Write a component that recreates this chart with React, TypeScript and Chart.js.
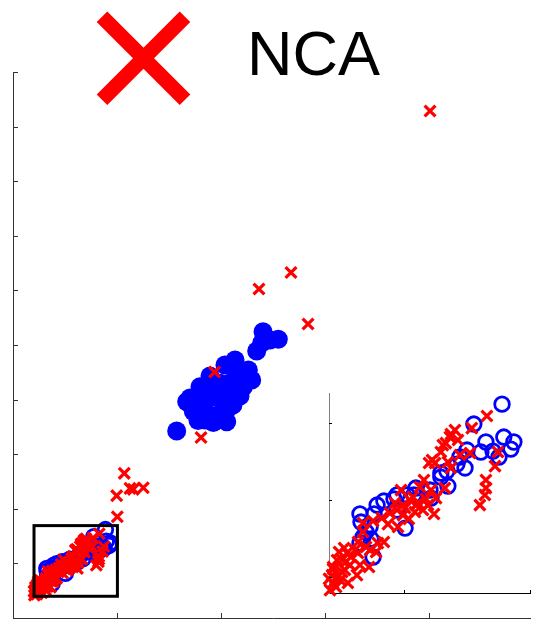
import React, { useEffect, useRef } from "react";
import { Chart, registerables } from "chart.js";

Chart.register(...registerables);

// ---------- data ----------
const seriesLabel = "NCA";

const mainXRange = [0, 5];
const mainYRange = [0, 10];
const mainXTicks = [1, 2, 3, 4, 5];
const mainYTicks = [1, 2, 3, 4, 5, 6, 7, 8, 9, 10];

const insetXRange = [0.202, 1.004];
const insetYRange = [0.398, 1.692];
const insetXTicks = [0.5, 1.0];
const insetYTicks = [0.5, 1.0, 1.5];

// blue filled circles (main cluster)
const blueFilled: [number, number][] = [
  [1.574, 3.425], [2.404, 5.244], [2.551, 5.104], [2.343, 4.89], [2.391, 5.037],
  [2.471, 5.092], [1.67, 3.962], [1.798, 4.236], [1.894, 4.432], [2.038, 4.634],
  [2.135, 4.725], [2.263, 4.542], [2.295, 4.359], [2.214, 4.231], [2.055, 3.595],
  [1.926, 3.581], [1.779, 3.617], [1.734, 3.782], [2.022, 3.993], [1.926, 4.053],
  [1.83, 3.932], [2.055, 3.81], [1.863, 3.749], [2.118, 4.176], [1.99, 4.298],
  [1.798, 4.053], [2.183, 4.414], [2.087, 4.304], [2.115, 3.901], [2.183, 4.066],
  [1.952, 4.139], [1.702, 4.029], [1.971, 3.718], [1.846, 3.626], [2.163, 4.505],
];

// blue hollow circles (small cluster, shown zoomed in the inset)
const blueHollow: [number, number][] = [
  [0.889, 1.62], [0.777, 1.491], [0.825, 1.375], [0.896, 1.407], [0.936, 1.375],
  [0.924, 1.329], [0.853, 1.316], [0.805, 1.31], [0.877, 1.278], [0.75, 1.323],
  [0.722, 1.278], [0.71, 1.232], [0.742, 1.207], [0.67, 1.187], [0.646, 1.148],
  [0.674, 1.09], [0.603, 1.064], [0.547, 1.077], [0.512, 1.032], [0.472, 1.032],
  [0.46, 1.006], [0.42, 0.993], [0.393, 0.967], [0.472, 0.935], [0.381, 0.909],
  [0.325, 0.909], [0.329, 0.857], [0.349, 0.793], [0.365, 0.825], [0.504, 0.818],
  [0.369, 0.747], [0.325, 0.721], [0.377, 0.631], [0.337, 0.76], [0.539, 1.032],
  [0.607, 1.012], [0.646, 1.174],
];

// NCA points far from the origin
const ncaOutliers: [number, number][] = [
  [4.01, 9.286], [2.365, 6.026], [2.673, 6.328], [2.837, 5.385], [1.938, 4.505],
  [1.808, 3.306], [1.07, 2.65], [0.997, 2.24], [1.125, 2.375], [1.157, 2.357],
  [1.253, 2.386], [1.003, 1.855],
];

// NCA points in the small cluster
const ncaCluster: [number, number][] = [
  [0.829, 1.543], [0.769, 1.465], [0.702, 1.452], [0.686, 1.426], [0.682, 1.407],
  [0.666, 1.368], [0.654, 1.355], [0.714, 1.388], [0.762, 1.304], [0.722, 1.291],
  [0.873, 1.31], [0.861, 1.219], [0.825, 1.129], [0.825, 1.077], [0.821, 1.032],
  [0.801, 0.967], [0.674, 1.245], [0.623, 1.239], [0.611, 1.258], [0.646, 1.31],
  [0.662, 1.077], [0.607, 1.064], [0.686, 1.207], [0.599, 1.239], [0.579, 1.129],
  [0.563, 1.084], [0.488, 1.064], [0.523, 1.0], [0.496, 0.967], [0.472, 0.935],
  [0.444, 0.915], [0.619, 0.909], [0.627, 1.012], [0.535, 1.019], [0.587, 1.006],
  [0.547, 0.967], [0.575, 0.935], [0.519, 0.877], [0.496, 0.902], [0.476, 0.825],
  [0.436, 0.844], [0.412, 0.883], [0.377, 0.864], [0.337, 0.851], [0.337, 0.793],
  [0.317, 0.728], [0.349, 0.696], [0.389, 0.663], [0.42, 0.728], [0.396, 0.721],
  [0.365, 0.676], [0.317, 0.657], [0.325, 0.579], [0.361, 0.566], [0.273, 0.657],
  [0.242, 0.663], [0.289, 0.631], [0.269, 0.599], [0.254, 0.611], [0.218, 0.566],
  [0.218, 0.553], [0.265, 0.547], [0.254, 0.534], [0.313, 0.514], [0.202, 0.489],
  [0.23, 0.437], [0.218, 0.463], [0.206, 0.417], [0.246, 0.482], [0.285, 0.579],
  [0.305, 0.676], [0.234, 0.611], [0.504, 0.948], [0.555, 0.98], [0.464, 0.98],
  [0.238, 0.514], [0.277, 0.463], [0.262, 0.689], [0.214, 0.514], [0.543, 0.922],
  [0.595, 0.967],
];

// ---------- helpers ----------
const toXY = (arr: [number, number][]) => arr.map(([x, y]) => ({ x, y }));

const RED = "#ff0000";
const BLUE = "#0000ff";

const inTicksPlugin = {
  id: "inTicks",
  afterDraw(chart: any, _args: any, opts: any) {
    const { ctx, chartArea } = chart;
    const xs = chart.scales.x;
    const ys = chart.scales.y;
    ctx.save();
    ctx.lineWidth = 1;
    ctx.strokeStyle = opts.color || "#000";
    ctx.beginPath();
    (opts.x || []).forEach((v: number) => {
      const px = Math.round(xs.getPixelForValue(v)) + 0.5;
      ctx.moveTo(px, chartArea.bottom);
      ctx.lineTo(px, chartArea.bottom - opts.len);
    });
    (opts.y || []).forEach((v: number) => {
      const py = Math.round(ys.getPixelForValue(v)) + 0.5;
      ctx.moveTo(chartArea.left, py);
      ctx.lineTo(chartArea.left + opts.len, py);
    });
    ctx.stroke();
    ctx.restore();
  },
};

const zoomBoxPlugin = {
  id: "zoomBox",
  afterDatasetsDraw(chart: any, _args: any, opts: any) {
    if (!opts || !opts.xr) return;
    const { ctx } = chart;
    const xs = chart.scales.x;
    const ys = chart.scales.y;
    const x0 = xs.getPixelForValue(opts.xr[0]);
    const x1 = xs.getPixelForValue(opts.xr[1]);
    const y0 = ys.getPixelForValue(opts.yr[0]);
    const y1 = ys.getPixelForValue(opts.yr[1]);
    ctx.save();
    ctx.lineWidth = 3;
    ctx.strokeStyle = "#000";
    ctx.strokeRect(x0, y1, x1 - x0, y0 - y1);
    ctx.restore();
  },
};

const bigLegendPlugin = {
  id: "bigLegend",
  afterDraw(chart: any, _args: any, opts: any) {
    if (!opts || !opts.show) return;
    const { ctx } = chart;
    const ds = chart.data.datasets.find((d: any) => d.label === seriesLabel);
    if (!ds) return;
    const cx = opts.cx, cy = opts.cy, a = opts.arm;
    ctx.save();
    ctx.strokeStyle = ds.borderColor;
    ctx.lineWidth = opts.stroke;
    ctx.lineCap = "butt";
    ctx.beginPath();
    ctx.moveTo(cx - a, cy - a);
    ctx.lineTo(cx + a, cy + a);
    ctx.moveTo(cx + a, cy - a);
    ctx.lineTo(cx - a, cy + a);
    ctx.stroke();
    ctx.fillStyle = "#000";
    ctx.font = `${opts.fontSize}px "Liberation Sans", Arial, sans-serif`;
    ctx.textBaseline = "alphabetic";
    ctx.textAlign = "left";
    ctx.fillText(ds.label, opts.tx, opts.ty);
    ctx.restore();
  },
};

const ncaStyle = {
  pointStyle: "crossRot" as const,
  pointRadius: 7.7,
  pointHoverRadius: 7.7,
  pointBorderWidth: 3.2,
  borderColor: RED,
  backgroundColor: RED,
  clip: false as const,
};
const hollowStyle = {
  pointStyle: "circle" as const,
  pointRadius: 7.3,
  pointHoverRadius: 7.3,
  pointBorderWidth: 2.8,
  borderColor: BLUE,
  backgroundColor: "rgba(0,0,0,0)",
  clip: false as const,
};
const filledStyle = {
  pointStyle: "circle" as const,
  pointRadius: 9.5,
  pointHoverRadius: 9.5,
  pointBorderWidth: 0,
  borderColor: BLUE,
  backgroundColor: BLUE,
  clip: false as const,
};

function scaleOpts(range: number[], axis: "x" | "y", color: string) {
  return {
    type: "linear" as const,
    position: axis === "x" ? ("bottom" as const) : ("left" as const),
    min: range[0],
    max: range[1],
    ticks: { display: false },
    grid: { display: false, drawTicks: false },
    border: { display: true, color, width: 1 },
    afterFit: (s: any) => {
      if (axis === "x") s.height = 0;
      else s.width = 0;
    },
  };
}

export default function App() {
  const mainRef = useRef<HTMLCanvasElement | null>(null);
  const insetRef = useRef<HTMLCanvasElement | null>(null);

  useEffect(() => {
    if (!mainRef.current || !insetRef.current) return;

    const main = new Chart(mainRef.current, {
      type: "scatter",
      data: {
        datasets: [
          { label: seriesLabel, data: toXY([...ncaOutliers, ...ncaCluster]), ...ncaStyle },
          { label: "cluster", data: toXY(blueHollow), ...hollowStyle },
          { label: "class", data: toXY(blueFilled), ...filledStyle },
        ],
      },
      options: {
        animation: false,
        responsive: true,
        maintainAspectRatio: false,
        layout: { autoPadding: false, padding: { left: 5, right: 6, top: 64, bottom: 2 } },
        scales: {
          x: scaleOpts(mainXRange, "x", "#333"),
          y: scaleOpts(mainYRange, "y", "#333"),
        },
        plugins: {
          legend: { display: false },
          tooltip: { enabled: false },
          inTicks: { x: mainXTicks, y: mainYTicks, len: 5, color: "#333" },
          zoomBox: { xr: insetXRange, yr: insetYRange },
          bigLegend: { show: true, cx: 135.5, cy: 50.3, arm: 41.5, stroke: 15, fontSize: 63, tx: 239, ty: 67 },
        } as any,
      },
      plugins: [inTicksPlugin, zoomBoxPlugin, bigLegendPlugin],
    });

    const inset = new Chart(insetRef.current, {
      type: "scatter",
      data: {
        datasets: [
          { label: seriesLabel, data: toXY(ncaCluster), ...ncaStyle },
          { label: "cluster", data: toXY(blueHollow), ...hollowStyle },
        ],
      },
      options: {
        animation: false,
        responsive: true,
        maintainAspectRatio: false,
        layout: { autoPadding: false, padding: { left: 7, right: 7, top: 7, bottom: 7 } },
        scales: {
          x: scaleOpts(insetXRange, "x", "#000"),
          y: scaleOpts(insetYRange, "y", "#808080"),
        },
        plugins: {
          legend: { display: false },
          tooltip: { enabled: false },
          inTicks: { x: insetXTicks, y: insetYTicks, len: 3, color: "#000" },
        } as any,
      },
      plugins: [inTicksPlugin],
    });

    return () => {
      main.destroy();
      inset.destroy();
    };
  }, []);

  return (
    <div style={{ position: "relative", width: 531, height: 612 }}>
      <canvas ref={mainRef} />
      <div style={{ position: "absolute", left: 314, top: 378, width: 216, height: 214 }}>
        <canvas ref={insetRef} />
      </div>
    </div>
  );
}
